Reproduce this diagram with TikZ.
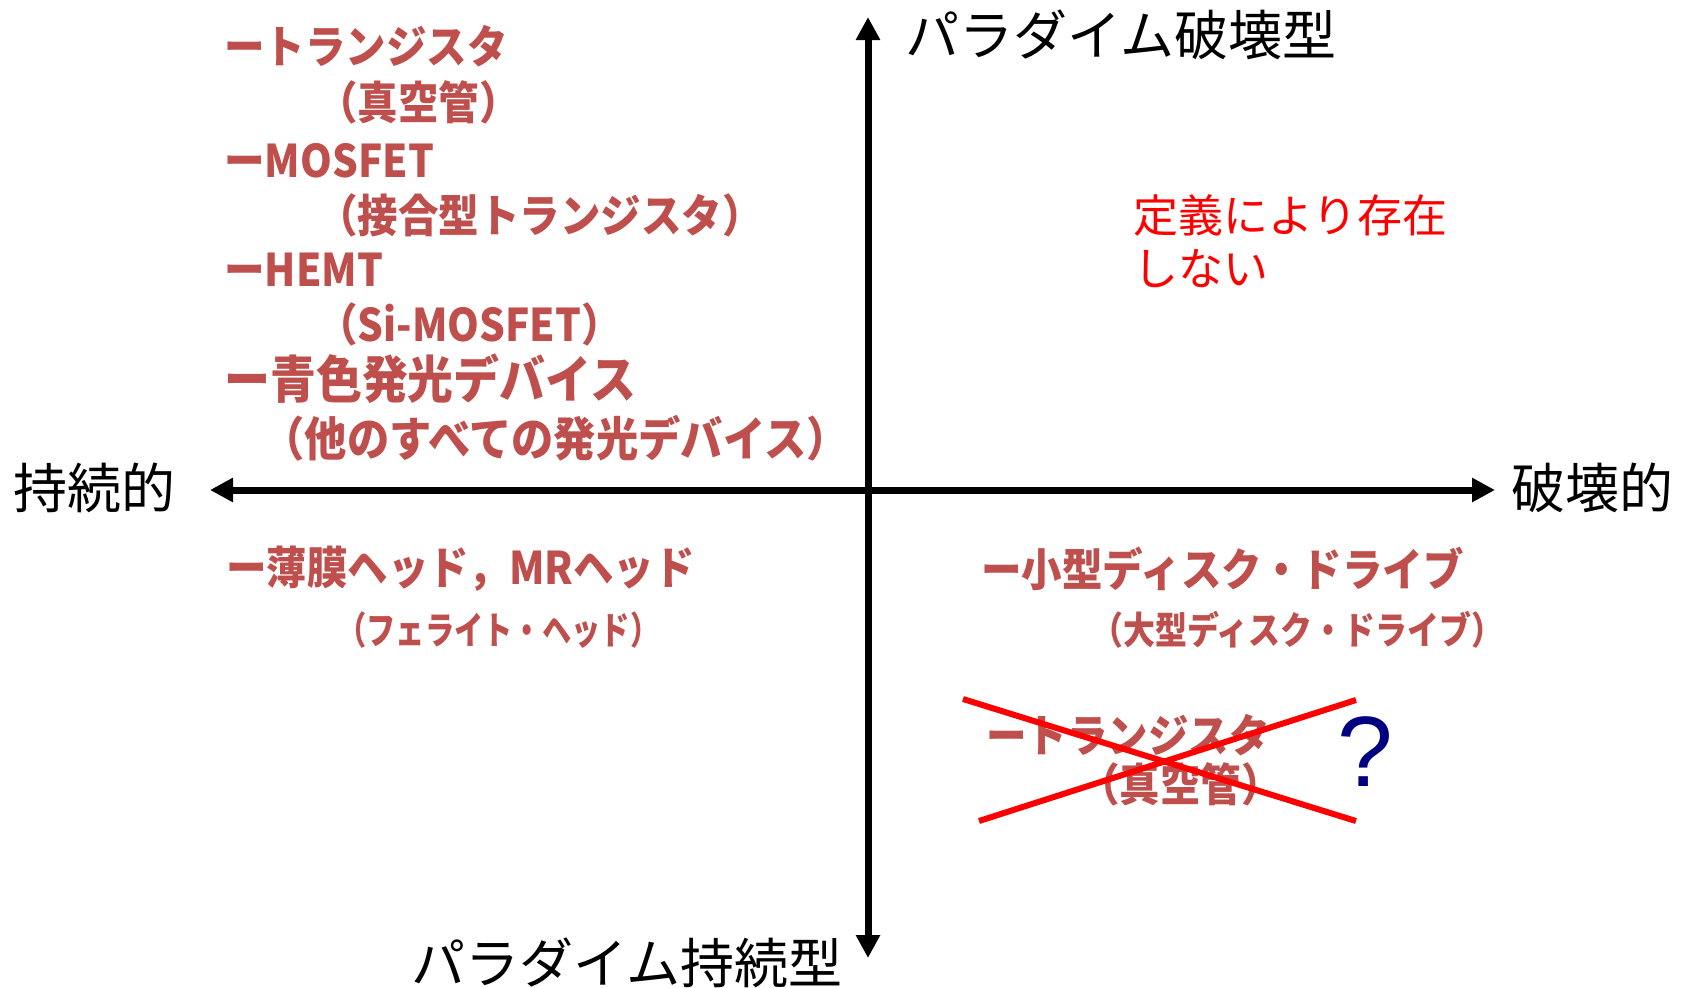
\documentclass[tikz,border=0pt]{standalone}
\usepackage{fontspec}
\usepackage{tikz}
\usetikzlibrary{arrows.meta}
\newfontfamily\jpfont{Noto Sans CJK JP}
\newfontfamily\itemfont[FakeStretch=0.9]{Noto Sans CJK JP}
\newfontfamily\subfont[FakeStretch=0.77]{Noto Sans CJK JP}
\newfontfamily\subwidefont[FakeStretch=0.84]{Noto Sans CJK JP}
\newfontfamily\qfont{Liberation Sans}
\definecolor{itemred}{rgb}{0.75,0.31,0.30}
\definecolor{notered}{rgb}{1,0,0}
\definecolor{qnavy}{rgb}{0,0,0.5}
\tikzset{
  axis/.style={line width=3.5pt,>={Triangle[length=11.5pt,width=11.5pt]},<->},
  axislabel/.style={anchor=west,inner sep=0pt,font=\jpfont\fontsize{27}{31}\selectfont},
  item/.style={anchor=west,inner sep=0pt,text=itemred,font=\itemfont\bfseries\fontsize{22.5}{26}\selectfont},
  bigitem/.style={item,font=\itemfont\bfseries\fontsize{25.5}{29}\selectfont},
  subitem/.style={anchor=west,inner sep=0pt,text=itemred,font=\subfont\bfseries\fontsize{19}{22}\selectfont},
  crossline/.style={draw=notered,line width=3pt}
}

\begin{document}
\begin{tikzpicture}[x=0.5pt,y=-0.5pt]
      \useasboundingbox (0,0) rectangle (1683,987);

      %% axes
      \coordinate (west) at (210,490);
      \coordinate (east) at (1495,490);
      \coordinate (north) at (868,17);
      \coordinate (south) at (868,958);
      \draw[axis] (west) -- (east);
      \draw[axis] (north) -- (south);

      \node[axislabel] (brk) at (905,35) {パラダイム破壊型};
      \node[axislabel] (sus) at (411,963) {パラダイム持続型};
      \node[axislabel] (susx) at (13,488) {持続的};
      \node[axislabel] (brkx) at (1511,488) {破壊的};

      %% upper left
      \node[item] (tr1) at (224,46) {ートランジスタ};
      \node[item] (vac1) at (317,102) {（真空管）};
      \node[item] (mos) at (224,161) {ーMOSFET};
      \node[item] (junc) at (317,215) {（接合型トランジスタ）};
      \node[item] (hemt) at (224,270) {ーHEMT};
      \node[item] (simos) at (317,324) {（Si-MOSFET）};
      \node[bigitem] (blue) at (224,379) {ー青色発光デバイス};
      \node[item,font=\itemfont\bfseries\fontsize{23.5}{27}\selectfont] (led) at (262,438) {（他のすべての発光デバイス）};

      %% upper right
      \node[anchor=west,inner sep=0pt,align=left,text=notered,
            font=\jpfont\fontsize{22.5}{26.5}\selectfont] (nodef) at (1133,241)
            {定義により存在\\しない};

      %% lower left
      \node[item,font=\itemfont\bfseries\fontsize{22.5}{27}\selectfont] (thin) at (226,569) {ー薄膜ヘッド，MRヘッド};
      \node[subitem] (ferr) at (337,630) {（フェライト・ヘッド）};

      %% lower right
      \node[item] (small) at (981,569) {ー小型ディスク・ドライブ};
      \node[subitem,font=\subwidefont\bfseries\fontsize{19}{22}\selectfont] (large) at (1091,630) {（大型ディスク・ドライブ）};
      \node[item] (tr2) at (986,735) {ートランジスタ};
      \node[item] (vac2) at (1079,784) {（真空管）};

      \coordinate (xa) at (963,699);
      \coordinate (xb) at (1356,821);
      \coordinate (xc) at (979,821);
      \coordinate (xd) at (1356,700);
      \draw[crossline] (xa) -- (xb);
      \draw[crossline] (xc) -- (xd);

      \node[inner sep=0pt,text=qnavy,font=\qfont\fontsize{50}{56}\selectfont] (qm) at (1365,752) {?};
\end{tikzpicture}
\end{document}
